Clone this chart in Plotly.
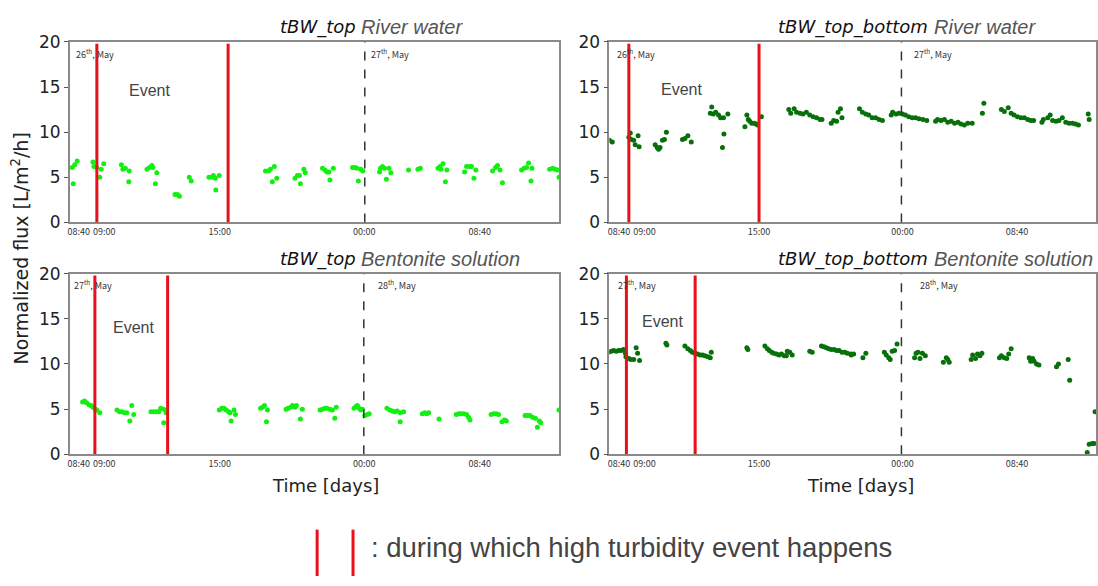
import plotly.graph_objects as go

# ---- data: x is the sample position along the record (0-100), y is normalized flux ----
rt_x = [1.1, 0.9, 1.4, 1.9,
        5.1, 5.3, 5.9, 6.5, 6.8, 7.3,
        10.9, 11.2, 11.7, 12.5, 12.4,
        16.1, 16.6, 17.1, 17.3, 18.1, 17.8,
        21.8, 22.3, 22.7, 24.7, 25.1,
        28.7, 29.3, 29.6, 30.0, 30.1, 30.8,
        40.2, 40.8, 41.2, 42.0, 41.6, 42.5,
        46.2, 46.7, 47.1, 47.3, 48.0, 48.3,
        51.8, 52.3, 52.7, 53.3, 54.0, 53.1,
        57.9, 58.4, 58.8, 59.6, 59.1, 60.0,
        63.6, 64.0, 64.4, 65.3, 64.8, 65.7, 63.4,
        69.3, 71.2, 71.7,
        75.3, 75.7, 76.3, 75.9, 77.1, 76.8,
        80.7, 81.1, 81.7, 82.1, 83.0, 82.6,
        86.4, 87.0, 87.4, 87.9, 88.4,
        92.3, 92.8, 93.3, 93.7, 94.4, 94.2,
        98.0, 98.6, 99.1, 99.6, 99.9]
rt_y = [4.3, 6.1, 6.4, 6.8,
        6.7, 6.2, 6.1, 5.0, 5.9, 6.5,
        6.4, 5.9, 6.0, 5.7, 4.5,
        5.9, 6.1, 6.3, 6.1, 5.5, 4.3,
        3.1, 3.1, 2.9, 5.0, 4.6,
        5.0, 5.0, 5.2, 4.9, 3.6, 5.2,
        5.7, 5.7, 5.9, 6.2, 4.5, 4.9,
        4.9, 5.2, 5.2, 4.3, 5.9, 5.5,
        6.0, 5.8, 5.6, 4.7, 6.0, 5.6,
        6.1, 6.1, 6.0, 5.9, 4.6, 5.7,
        6.0, 6.2, 6.0, 6.0, 4.8, 5.5, 5.6,
        5.8, 5.9, 6.0,
        6.0, 6.2, 6.5, 5.9, 5.8, 4.5,
        5.6, 6.2, 6.2, 6.2, 5.8, 4.9,
        5.7, 6.1, 6.3, 5.8, 4.4,
        5.8, 6.0, 6.1, 6.6, 6.0, 4.6,
        5.9, 6.0, 5.9, 5.8, 5.0]

rtb_x = [0.2, 0.8,
         4.2, 4.7, 5.2, 5.5, 6.1, 6.3, 4.5,
         9.6, 10.0, 10.3, 10.6, 11.1, 11.5, 11.9,
         15.2, 15.7, 16.3, 17.0,
         21.2, 20.9, 21.5, 22.0, 22.6, 23.0, 23.6, 24.5, 23.7, 23.4,
         28.4, 28.0, 28.7, 29.0, 29.4, 29.9, 30.3, 30.6, 31.4,
         37.0, 37.4, 38.1, 38.6, 39.3, 39.9, 40.6, 41.3, 42.0, 42.7, 43.4, 43.8,
         45.7, 46.2, 46.8, 47.1, 47.6, 47.9,
         51.5, 52.1, 52.8, 53.4, 54.1, 54.8, 55.5, 56.2,
         58.0, 58.3, 59.0, 59.6, 60.3, 60.9, 61.6, 62.3, 63.0, 63.7, 64.5, 65.3,
         67.1, 67.5, 68.2, 68.9, 69.6, 70.3, 71.0, 71.7, 72.3, 73.0, 73.7, 74.6,
         77.0, 76.7,
         80.6, 81.2, 82.0, 82.6, 83.2, 83.9, 84.6, 85.3, 86.0, 86.6, 87.2,
         88.9, 89.2, 90.1, 90.6, 91.1, 91.8, 92.4, 93.1, 93.8, 94.5, 95.2, 95.8, 96.4,
         98.4, 98.6]
rtb_y = [9.1, 8.9,
         9.45, 9.2, 9.1, 8.6, 9.6, 8.4, 9.9,
         8.6, 8.3, 8.1, 8.3, 9.1, 9.2, 10.0,
         9.2, 9.3, 9.6, 8.9,
         12.8, 12.1, 12.0, 12.2, 11.9, 11.6, 11.6, 12.0, 9.8, 8.3,
         11.9, 10.6, 11.4, 11.2, 11.0, 11.0, 10.9, 10.8, 11.7,
         12.5, 12.1, 12.6, 12.2, 12.1, 12.0, 12.2, 11.9, 11.7, 11.6, 11.4, 11.4,
         11.0, 11.3, 11.2, 12.2, 12.6, 11.6,
         12.6, 12.2, 12.0, 11.9, 11.6, 11.6, 11.4, 11.3,
         11.9, 12.2, 12.0, 12.1, 12.0, 11.9, 11.7, 11.6, 11.6, 11.5, 11.4, 11.3,
         11.2, 11.4, 11.3, 11.4, 11.1, 11.2, 11.0, 11.1, 10.9, 10.8, 11.0, 11.0,
         13.2, 12.1,
         12.5, 12.3, 12.7, 12.1, 11.9, 11.7, 11.6, 11.6, 11.4, 11.3, 11.3,
         11.1, 11.4, 11.6, 11.9, 11.3, 11.2, 11.3, 11.6, 11.1, 11.0, 11.0, 10.9, 10.8,
         12.0, 11.4]

bt_x = [3.0, 3.4, 3.8, 4.3, 4.7, 5.1, 5.6, 5.9, 6.5,
        10.0, 10.5, 11.0, 11.5, 12.0, 13.0, 13.4, 12.6,
        16.9, 17.4, 18.0, 18.5, 18.9, 19.5, 19.5, 20.0,
        30.8, 31.3, 31.8, 32.2, 32.7, 33.0, 33.8, 34.1, 33.2,
        39.2, 39.6, 40.0, 40.6, 40.4,
        44.4, 44.8, 45.3, 45.7, 46.2, 46.5, 47.7, 47.3,
        51.3, 51.8, 52.3, 52.7, 53.3, 53.8, 54.6, 54.3,
        58.2, 58.6, 58.9, 59.2, 59.6, 59.9, 60.4, 60.9, 61.3,
        64.9, 65.5, 66.0, 66.5, 67.0, 67.6, 68.3, 67.6,
        72.1, 72.6, 73.0, 73.4, 75.5,
        79.0, 79.5, 80.0, 80.5, 81.1, 81.5, 81.8,
        86.1, 86.6, 87.1, 87.6, 88.3, 88.8, 89.2,
        93.0, 93.5, 94.0, 94.5, 95.1, 95.5, 95.9, 96.2,
        99.9]
bt_y = [5.8, 5.9, 5.7, 5.5, 5.4, 5.2, 5.0, 4.9, 4.6,
        4.9, 4.7, 4.7, 4.6, 4.6, 5.4, 4.4, 3.7,
        4.7, 4.7, 4.7, 4.7, 5.1, 5.0, 3.5, 4.6,
        4.9, 5.1, 5.1, 4.9, 4.7, 4.6, 4.9, 4.4, 3.7,
        5.1, 5.2, 5.4, 4.9, 3.6,
        5.0, 5.1, 5.2, 5.4, 5.2, 5.4, 5.0, 3.9,
        4.9, 5.0, 5.1, 5.1, 5.0, 4.9, 5.2, 4.0,
        5.1, 5.3, 5.4, 5.1, 4.9, 5.0, 4.3, 4.4, 4.5,
        5.1, 4.9, 4.8, 4.7, 4.8, 4.6, 4.7, 3.6,
        4.5, 4.6, 4.5, 4.6, 3.9,
        4.4, 4.5, 4.5, 4.5, 4.4, 4.1, 3.8,
        4.4, 4.5, 4.5, 4.4, 3.6, 3.8, 3.7,
        4.3, 4.3, 4.3, 4.1, 4.0, 3.0, 3.7, 3.5,
        4.9]

btb_x = [0.1, 0.6, 1.1, 1.6, 2.1, 2.6, 3.1, 3.5,
         3.6, 4.2, 4.6, 5.2, 5.7, 6.0, 6.4,
         11.8, 12.0,
         15.7, 16.3, 16.8, 17.2, 17.8, 18.3, 18.8, 19.3, 19.8, 20.4, 20.9, 21.1,
         28.4, 28.6,
         32.1, 32.6, 33.0, 33.5, 33.9, 34.5, 35.0, 35.5, 36.1, 36.5, 36.7, 37.2, 37.7,
         41.3, 41.8,
         43.7, 44.2, 44.7, 45.2, 45.7, 46.3, 46.8, 47.3, 47.9, 48.5, 49.0, 49.7,
         49.8, 50.3, 52.2, 52.8,
         56.6, 57.0, 57.5, 57.8, 58.2, 58.7, 59.2,
         62.8, 63.1, 63.5, 63.9, 64.4, 65.0,
         68.7, 69.3, 69.6, 69.9,
         74.4, 74.7, 75.3, 75.7, 76.2, 76.6,
         80.2, 80.6, 81.2, 81.7, 82.1, 82.6,
         86.3, 86.6, 87.0, 87.3, 87.8, 88.3,
         91.9, 92.3,
         94.3, 94.6,
         98.2, 98.6, 99.2, 99.6, 99.8]
btb_y = [11.3, 11.4, 11.5, 11.4, 11.5, 11.5, 11.6, 11.2,
         10.8, 10.6, 10.5, 10.5, 11.8, 11.2, 10.4,
         12.3, 12.1,
         12.0, 11.7, 11.5, 11.3, 11.2, 11.1, 11.0, 11.0, 10.9, 10.8, 10.7, 11.3,
         11.8, 11.6,
         12.0, 11.7, 11.5, 11.3, 11.2, 11.1, 11.0, 11.1, 10.9, 10.9, 11.4, 11.3, 11.0,
         11.4, 11.3,
         12.0, 11.9, 11.8, 11.7, 11.6, 11.6, 11.5, 11.5, 11.3, 11.3, 11.2, 11.1,
         11.0, 11.1, 10.7, 11.2,
         11.3, 11.0, 10.7, 10.5, 11.4, 11.5, 12.2,
         10.7, 11.2, 11.3, 10.6, 11.2, 10.9,
         10.2, 10.7, 10.5, 10.2,
         10.5, 11.0, 10.6, 11.1, 10.9, 11.2,
         10.7, 10.9, 10.7, 10.6, 11.1, 11.7,
         10.7, 10.3, 10.6, 10.3, 10.0, 9.9,
         9.7, 10.0,
         10.5, 8.2,
         0.2, 1.1, 1.2, 1.2, 4.7]

# event window (start, end) and midnight marker per panel
event_start = [5.9, 4.2, 5.5, 3.7]
event_end = [32.6, 30.9, 20.3, 17.8]
midnight = [60.4, 60.1, 60.2, 60.1]

tick_pos = [2.2, 7.4, 30.9, 60.3, 83.8]
tick_text = ["08:40", "09:00", "15:00", "00:00", "08:40"]

panel_series = ["tBW_top", "tBW_top_bottom", "tBW_top", "tBW_top_bottom"]
panel_feed = ["River water", "River water", "Bentonite solution", "Bentonite solution"]
day_first = ["26<sup>th</sup>, May", "26<sup>th</sup>, May", "27<sup>th</sup>, May", "27<sup>th</sup>, May"]
day_second = ["27<sup>th</sup>, May", "27<sup>th</sup>, May", "28<sup>th</sup>, May", "28<sup>th</sup>, May"]

W, H = 1098, 586
LIME = "#12f012"
DARK = "#07700a"
RED = "#e8101a"

xs = [rt_x, rtb_x, bt_x, btb_x]
ys = [rt_y, rtb_y, bt_y, btb_y]
colors = [LIME, DARK, LIME, DARK]

# panel frames in pixels (left, right, top, bottom)
frames = [(68, 559, 33, 220), (609, 1097, 33, 220),
          (68, 559, 273, 460), (609, 1097, 273, 460)]
x_ranges = [[0.4, 100], [0.2, 100], [0.4, 100], [0.2, 100]]
event_label_pos = [(16.6, 14.6), (14.9, 14.7), (13.4, 14.0), (11.0, 14.7)]
day_label_x = [(1.2, 61.3), (1.4, 62.2), (0.9, 62.6), (1.6, 63.4)]
title_left_px = [277, 776, 277, 776]

fig = go.Figure()
layout = dict(
    width=W, height=H, margin=dict(l=0, r=0, t=0, b=0),
    paper_bgcolor="white", plot_bgcolor="white", showlegend=False,
)
shapes, annotations = [], []

for i in range(4):
    n = "" if i == 0 else str(i + 1)
    xa, ya = "x" + n, "y" + n
    l, r, t, b = frames[i]
    fig.add_trace(go.Scatter(
        x=xs[i], y=ys[i], mode="markers", xaxis=xa, yaxis=ya,
        marker=dict(color=colors[i], size=5, line=dict(width=0)),
        hoverinfo="x+y",
    ))
    layout["xaxis" + n] = dict(
        domain=[l / W, r / W], anchor=ya, range=x_ranges[i],
        tickmode="array", tickvals=tick_pos, ticktext=tick_text,
        ticks="", showgrid=False, zeroline=False,
        showline=True, mirror=True, linecolor="#8a8a8a", linewidth=1.5,
        tickfont=dict(family="Noto Sans CJK KR", size=9, color="#333"),
        ticklabelstandoff=0,
    )
    layout["yaxis" + n] = dict(
        domain=[1 - b / H, 1 - t / H], anchor=xa, range=[0, 20],
        tickvals=[0, 5, 10, 15, 20], ticks="outside", ticklen=4,
        tickcolor="#555", showgrid=False, zeroline=False,
        showline=True, mirror=True, linecolor="#8a8a8a", linewidth=1.5,
        tickfont=dict(family="DejaVu Sans", size=17, color="#222"),
    )
    # event window edges
    for xv in (event_start[i], event_end[i]):
        shapes.append(dict(type="line", xref=xa, yref=ya, x0=xv, x1=xv,
                           y0=0, y1=19.8, line=dict(color=RED, width=3)))
    # midnight divider
    shapes.append(dict(type="line", xref=xa, yref=ya, x0=midnight[i], x1=midnight[i],
                       y0=0, y1=20, line=dict(color="#333", width=1.5, dash="dash")))
    ex, ey = event_label_pos[i]
    annotations.append(dict(xref=xa, yref=ya, x=ex, y=ey, text="Event", showarrow=False,
                            xanchor="center", yanchor="middle",
                            font=dict(family="Liberation Sans", size=16, color="#444")))
    d1, d2 = day_label_x[i]
    for dx, txt in ((d1, day_first[i]), (d2, day_second[i])):
        annotations.append(dict(xref=xa, yref=ya, x=dx, y=18.7, text=txt, showarrow=False,
                                xanchor="left", yanchor="middle",
                                font=dict(family="Noto Sans CJK KR", size=9, color="#333")))
    # panel title: series name + feed water
    ty = 1 - (t - 15) / H
    annotations.append(dict(xref="paper", yref="paper", x=title_left_px[i] / W, y=ty,
                            xanchor="left", yanchor="middle", showarrow=False,
                            text="<i>" + panel_series[i] + "</i>",
                            font=dict(family="DejaVu Sans", size=18, color="#111")))
    series_w = 76 if panel_series[i] == "tBW_top" else 152
    annotations.append(dict(xref="paper", yref="paper",
                            x=(title_left_px[i] + series_w + 5) / W, y=ty,
                            xanchor="left", yanchor="middle", showarrow=False,
                            text="<i>" + panel_feed[i] + "</i>",
                            font=dict(family="Liberation Sans", size=20, color="#555")))

# shared axis titles
annotations.append(dict(xref="paper", yref="paper", x=18 / W, y=1 - 247 / H,
                        xanchor="center", yanchor="middle",
                        text="Normalized flux [L/m<sup>2</sup>/h]", textangle=-90,
                        showarrow=False, font=dict(family="DejaVu Sans", size=19, color="#222")))
for cx in (324, 861):
    annotations.append(dict(xref="paper", yref="paper", x=cx / W, y=1 - 492 / H,
                            xanchor="center", yanchor="middle",
                            text="Time [days]", showarrow=False,
                            font=dict(family="DejaVu Sans", size=18, color="#222")))

# key for the red event markers
for kx in (316, 352):
    shapes.append(dict(type="line", xref="paper", yref="paper", x0=kx / W, x1=kx / W,
                       y0=0, y1=1 - 538 / H, line=dict(color=RED, width=3)))
annotations.append(dict(xref="paper", yref="paper", x=368 / W, y=1 - 557 / H,
                        xanchor="left", yanchor="middle", showarrow=False,
                        text=": during which high turbidity event happens",
                        font=dict(family="Liberation Sans", size=27.5, color="#444")))

layout["shapes"] = shapes
layout["annotations"] = annotations
fig.update_layout(**layout)
fig.write_html("out.html")
